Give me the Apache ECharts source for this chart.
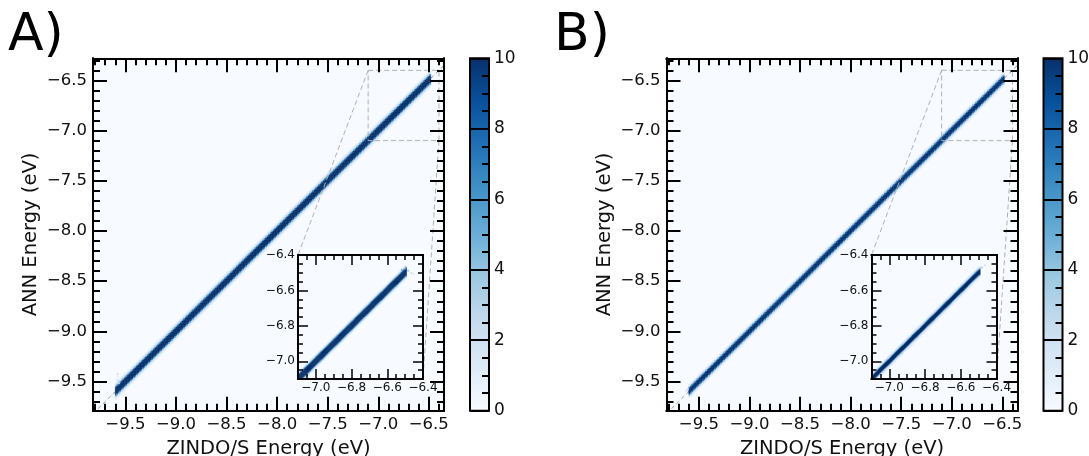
<!DOCTYPE html>
<html>
<head>
<meta charset="utf-8">
<title>ZINDO/S vs ANN energies</title>
<script src="https://cdn.jsdelivr.net/npm/echarts@6.0.0/dist/echarts.min.js"></script>
<style>
  html, body { margin: 0; padding: 0; background: #ffffff; }
  #chart { width: 1089px; height: 456px; }
</style>
</head>
<body>
<div id="chart"></div>
<script>
// ---------------- data ----------------
// axis limits of the full-range parity plots (eV)
const mainXRange = [-9.82, -6.35];
const mainYRange = [-9.79, -6.28];
// window magnified in the insets (eV), same on both axes
const zoomRange = [-7.1, -6.4];

const mainMajorTicks = [-9.5, -9.0, -8.5, -8.0, -7.5, -7.0, -6.5];
const mainMinorTicks = [-9.8, -9.7, -9.6, -9.5, -9.4, -9.3, -9.2, -9.1, -9.0, -8.9, -8.8, -8.7,
  -8.6, -8.5, -8.4, -8.3, -8.2, -8.1, -8.0, -7.9, -7.8, -7.7, -7.6, -7.5, -7.4, -7.3, -7.2,
  -7.1, -7.0, -6.9, -6.8, -6.7, -6.6, -6.5, -6.4, -6.3];
const insetMajorTicks = [-7.0, -6.8, -6.6, -6.4];
const insetMinorTicks = [-7.1, -7.05, -7.0, -6.95, -6.9, -6.85, -6.8, -6.75, -6.7, -6.65,
  -6.6, -6.55, -6.5, -6.45, -6.4];
const countTicks = [0, 2, 4, 6, 8, 10];
const countMax = 10;

// histogram bin widths (eV)
const mainBin = 0.015;
const insetBin = 0.006;

// Panel A: stretch of the diagonal holding counts, counts across the band
// (one entry per y-bin, centred on the diagonal bin) and isolated bins
const bandA = [-9.60, -6.50];
const crossMainA = [1, 2, 6, 10, 10, 10, 10, 10, 6, 2, 1];
const crossInsetA = [1, 3, 6, 10, 10, 10, 10, 10, 10, 10, 6, 3, 1];
const strayMainA = [[-9.585, -9.435, 2], [-9.585, -9.465, 1], [-9.585, -9.495, 2],
  [-9.57, -9.525, 3], [-9.645, -9.645, 1]];
const strayInsetA = [[-6.522, -6.486, 6], [-6.504, -6.48, 4], [-6.486, -6.492, 5],
  [-6.468, -6.504, 3], [-6.456, -6.51, 2], [-7.1, -7.094, 10], [-7.094, -7.1, 10],
  [-7.1, -7.088, 10], [-7.088, -7.1, 10]];

// Panel B
const bandB = [-9.60, -6.50];
const crossMainB = [1, 3, 8, 10, 10, 10, 8, 3, 1];
const crossInsetB = [1, 2, 5, 10, 10, 10, 10, 10, 5, 2, 1];
const strayMainB = [[-9.615, -9.585, 3], [-9.63, -9.6, 2]];
const strayInsetB = [[-6.486, -6.474, 4], [-6.468, -6.462, 2], [-7.1, -7.094, 10],
  [-7.094, -7.1, 10]];

const panels = [
  { letter: 'A)', band: bandA, crossMain: crossMainA, crossInset: crossInsetA,
    strayMain: strayMainA, strayInset: strayInsetA },
  { letter: 'B)', band: bandB, crossMain: crossMainB, crossInset: crossInsetB,
    strayMain: strayMainB, strayInset: strayInsetB }
];

// ---------------- layout & style ----------------
const FONT = '"DejaVu Sans", sans-serif';
const TEXT = '#111111';
const blues = ['#f7fbff', '#deebf7', '#c6dbef', '#9ecae1', '#6baed6',
  '#4292c6', '#2171b5', '#08519c', '#08306b'];
const layout = [
  { dx: 0, letterX: 8 },
  { dx: 573.5, letterX: 554 }
];
const mainStyle = { frame: 2, tick: 2, major: 14, minor: 7, font: 16.5, margin: 6 };
const insetStyle = { frame: 2, tick: 1.5, major: 10, minor: 5, font: 12, margin: 3 };

const chart = echarts.init(document.getElementById('chart'), null, { renderer: 'canvas' });

const grids = [], xAxes = [], yAxes = [], series = [], cellSeriesIdx = [];

function fmt(v) {
  return (v < 0 ? '\u2212' : '') + Math.abs(v).toFixed(1);
}

function addGrid(box, extra) {
  grids.push(Object.assign({
    show: true, backgroundColor: blues[0], borderWidth: 0,
    containLabel: false, outerBoundsMode: 'none'
  }, box, extra || {}));
  return grids.length - 1;
}

// frame with inward ticks on all four sides: one long-tick and one short-tick axis per side
function addFramedAxes(gridIndex, xr, yr, major, minor, st, names) {
  const first = { x: xAxes.length, y: yAxes.length };
  const sides = [['x', 'bottom', true], ['x', 'top', false], ['y', 'left', true], ['y', 'right', false]];
  sides.forEach(([dim, pos, labelled]) => {
    const range = dim === 'x' ? xr : yr;
    const inRange = v => v >= range[0] - 1e-9 && v <= range[1] + 1e-9;
    [true, false].forEach(isMajor => {
      const ax = {
        type: 'value', gridIndex, position: pos, min: range[0], max: range[1], z: 10,
        axisLine: { show: isMajor, onZero: false,
          lineStyle: { color: '#000', width: st.frame, cap: 'square' } },
        axisTick: { show: true, inside: true, length: isMajor ? st.major : st.minor,
          customValues: (isMajor ? major : minor).filter(inRange),
          lineStyle: { color: '#000', width: st.tick } },
        axisLabel: { show: false },
        splitLine: { show: false },
        minorTick: { show: false }
      };
      if (isMajor && labelled) {
        ax.axisLabel = { show: true, customValues: major.filter(inRange), formatter: fmt,
          color: TEXT, fontFamily: FONT, fontSize: st.font, margin: st.margin };
        if (names) {
          ax.name = dim === 'x' ? names.x : names.y;
          ax.nameLocation = 'middle';
          ax.nameGap = dim === 'x' ? names.gapX : names.gapY;
          ax.nameTextStyle = { fontFamily: FONT, fontSize: names.size, color: TEXT };
        }
      }
      (dim === 'x' ? xAxes : yAxes).push(ax);
    });
  });
  return first;
}

// 2D-histogram cells along the diagonal, plus isolated bins
function diagonalCells(band, bin, cross, stray) {
  const cells = [];
  const firstBin = Math.round(band[0] / bin), lastBin = Math.round(band[1] / bin);
  const mid = (cross.length - 1) / 2;
  for (let i = firstBin; i <= lastBin; i++) {
    cross.forEach((count, k) => {
      cells.push([i * bin, (i + k - mid) * bin, count]);
    });
  }
  stray.forEach(c => cells.push(c));
  return cells;
}

function addCells(axes, bin, data, z) {
  cellSeriesIdx.push(series.length);
  series.push({
    type: 'custom', coordinateSystem: 'cartesian2d', xAxisIndex: axes.x, yAxisIndex: axes.y,
    z, silent: true, animation: false, data,
    renderItem(params, api) {
      const x = api.value(0), y = api.value(1);
      const p0 = api.coord([x, y + bin]);
      const p1 = api.coord([x + bin, y]);
      const cs = params.coordSys;
      const shape = echarts.graphic.clipRectByRect(
        { x: p0[0], y: p0[1], width: p1[0] - p0[0], height: p1[1] - p0[1] },
        { x: cs.x, y: cs.y, width: cs.width, height: cs.height });
      if (!shape) return null;
      const c = api.visual('color');
      return { type: 'rect', shape, style: { fill: c, stroke: c, lineWidth: 0.4 } };
    }
  });
}

function addDashed(axes, data, color, dash, z) {
  series.push({
    type: 'line', xAxisIndex: axes.x, yAxisIndex: axes.y, data, symbol: 'none',
    silent: true, animation: false, z, clip: true,
    lineStyle: { color, width: 1, type: dash }
  });
}

function addColorbar(box) {
  const g = addGrid(box, { show: false });
  const xi = xAxes.length, yi = yAxes.length;
  xAxes.push({ type: 'value', gridIndex: g, min: 0, max: 1, show: false });
  yAxes.push({
    type: 'value', gridIndex: g, position: 'right', z: 10,
    min: countTicks[0], max: countTicks[countTicks.length - 1], interval: 2,
    axisLine: { show: false, onZero: false },
    axisTick: { show: true, inside: true, length: box.width, lineStyle: { color: '#000', width: 2 } },
    minorTick: { show: true, splitNumber: 4, length: 7, lineStyle: { color: '#000', width: 2 } },
    axisLabel: { color: TEXT, fontFamily: FONT, fontSize: 17, margin: 5 },
    splitLine: { show: false }
  });
  const stops = blues.map((c, i) => ({ offset: i / (blues.length - 1), color: c }));
  series.push({
    type: 'custom', coordinateSystem: 'cartesian2d', xAxisIndex: xi, yAxisIndex: yi,
    silent: true, animation: false, z: 2,
    data: [[0, countTicks[0], countMax]],
    renderItem(params, api) {
      const p0 = api.coord([0, api.value(2)]);
      const p1 = api.coord([1, api.value(1)]);
      return {
        type: 'rect',
        shape: { x: p0[0], y: p0[1], width: p1[0] - p0[0], height: p1[1] - p0[1] },
        style: { fill: new echarts.graphic.LinearGradient(0, 1, 0, 0, stops),
          stroke: '#000', lineWidth: 2 }
      };
    }
  });
}

panels.forEach((p, k) => {
  const dx = layout[k].dx;
  // main parity plot
  const gMain = addGrid({ left: 93 + dx, top: 58.3, width: 351, height: 352.4 });
  p.mainAxes = addFramedAxes(gMain, mainXRange, mainYRange, mainMajorTicks, mainMinorTicks,
    mainStyle, { x: 'ZINDO/S Energy (eV)', y: 'ANN Energy (eV)', gapX: 24, gapY: 52, size: 19.5 });
  addDashed(p.mainAxes, [[mainXRange[0], mainXRange[0]], [mainYRange[1], mainYRange[1]]],
    '#9a9a9a', [4, 3], 1);
  addCells(p.mainAxes, mainBin, diagonalCells(p.band, mainBin, p.crossMain, p.strayMain), 2);
  const z0 = zoomRange[0], z1 = zoomRange[1];
  addDashed(p.mainAxes, [[z0, z1], [z1, z1], [z1, z0], [z0, z0], [z0, z1]], '#b0b0b0', [5, 3], 3);

  // magnified inset
  const gInset = addGrid({ left: 298 + dx, top: 255, width: 125, height: 124 }, { z: 1 });
  p.insetAxes = addFramedAxes(gInset, zoomRange, zoomRange, insetMajorTicks, insetMinorTicks,
    insetStyle, null);
  addCells(p.insetAxes, insetBin, diagonalCells(p.band, insetBin, p.crossInset, p.strayInset), 4);

  // colour bar
  addColorbar({ left: 470 + dx, top: 58.3, width: 19, height: 352.4 });
});

chart.setOption({
  animation: false,
  textStyle: { fontFamily: FONT },
  grid: grids,
  xAxis: xAxes,
  yAxis: yAxes,
  series,
  visualMap: [{
    type: 'continuous', show: false, min: 0, max: countMax, dimension: 2,
    seriesIndex: cellSeriesIdx, inRange: { color: blues }
  }]
});

// panel letters and the lines tying each zoom box to its inset
const graphics = [];
panels.forEach((p, k) => {
  graphics.push({
    type: 'text', x: layout[k].letterX, y: 10, z: 20, silent: true,
    style: { text: p.letter, font: '52px "DejaVu Sans", sans-serif', fill: '#000' }
  });
  const m = { xAxisIndex: p.mainAxes.x, yAxisIndex: p.mainAxes.y };
  const ins = { xAxisIndex: p.insetAxes.x, yAxisIndex: p.insetAxes.y };
  const pairs = [
    [[zoomRange[0], zoomRange[1]], [zoomRange[0], zoomRange[1]]],
    [[zoomRange[1], zoomRange[0]], [zoomRange[1], zoomRange[0]]]
  ];
  pairs.forEach(([a, b]) => {
    const pa = chart.convertToPixel(m, a);
    const pb = chart.convertToPixel(ins, b);
    graphics.push({
      type: 'line', z: 5, silent: true,
      shape: { x1: pa[0], y1: pa[1], x2: pb[0], y2: pb[1] },
      style: { stroke: '#b0b0b0', lineWidth: 1, lineDash: [5, 3] }
    });
  });
});
chart.setOption({ graphic: graphics });
</script>
</body>
</html>
